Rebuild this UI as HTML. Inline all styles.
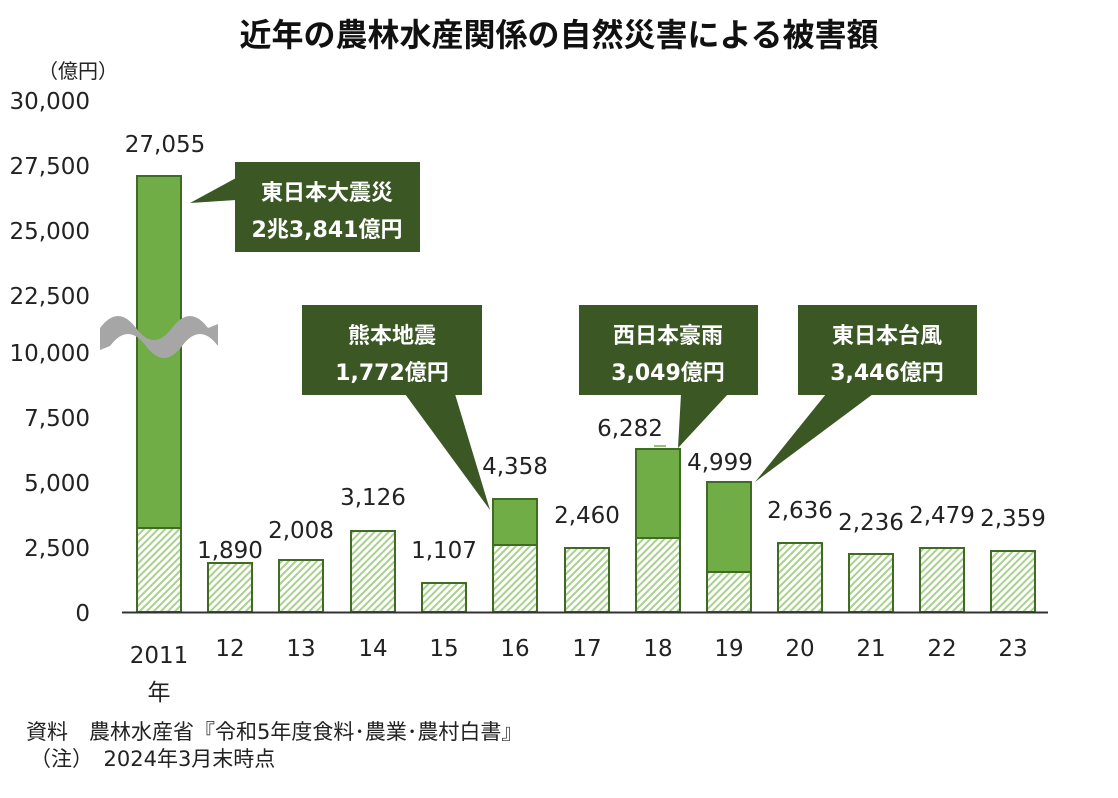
<!DOCTYPE html>
<html><head><meta charset="utf-8"><style>
body{margin:0;background:#fff;}
text{font-family:"DejaVu Sans","Noto Sans CJK JP",sans-serif;}
.j{font-family:"Noto Sans CJK JP","DejaVu Sans",sans-serif;}
</style></head><body>
<svg width="1118" height="793" viewBox="0 0 1118 793" xmlns="http://www.w3.org/2000/svg">
<defs>
<pattern id="h" width="5" height="5" patternUnits="userSpaceOnUse" patternTransform="rotate(-45)">
<rect width="5" height="5" fill="#fff"/>
<rect width="5" height="2" fill="#a9d18e"/>
</pattern>
</defs>
<text class="j" x="559" y="46" text-anchor="middle" font-size="32" font-weight="bold" fill="#111">近年の農林水産関係の自然災害による被害額</text>
<text class="j" x="38" y="78" font-size="20" fill="#222">（億円）</text>
<g font-size="23" fill="#222" text-anchor="end">
<text x="90" y="109">30,000</text>
<text x="90" y="174">27,500</text>
<text x="90" y="239">25,000</text>
<text x="90" y="304">22,500</text>
<text x="90" y="361">10,000</text>
<text x="90" y="426">7,500</text>
<text x="90" y="491">5,000</text>
<text x="90" y="556">2,500</text>
<text x="90" y="621">0</text>
</g>
<g stroke="#3f6b22" stroke-width="2">
<rect x="137" y="176" width="44" height="352" fill="#70ad47"/>
<rect x="137" y="528" width="44" height="84" fill="url(#h)"/>
<rect x="208" y="563" width="44" height="49" fill="url(#h)"/>
<rect x="279" y="560" width="44" height="52" fill="url(#h)"/>
<rect x="351" y="531" width="44" height="81" fill="url(#h)"/>
<rect x="422" y="583" width="44" height="29" fill="url(#h)"/>
<rect x="493" y="499" width="44" height="46" fill="#70ad47"/>
<rect x="493" y="545" width="44" height="67" fill="url(#h)"/>
<rect x="565" y="548" width="44" height="64" fill="url(#h)"/>
<rect x="636" y="449" width="44" height="89" fill="#70ad47"/>
<rect x="636" y="538" width="44" height="74" fill="url(#h)"/>
<rect x="707" y="482" width="44" height="90" fill="#70ad47"/>
<rect x="707" y="572" width="44" height="40" fill="url(#h)"/>
<rect x="778" y="543" width="44" height="69" fill="url(#h)"/>
<rect x="849" y="554" width="44" height="58" fill="url(#h)"/>
<rect x="920" y="548" width="44" height="64" fill="url(#h)"/>
<rect x="991" y="551" width="44" height="61" fill="url(#h)"/>
</g>
<line x1="654" y1="446" x2="666" y2="446" stroke="#70ad47" stroke-width="1.5"/>
<line x1="122" y1="612.5" x2="1048" y2="612.5" stroke="#333" stroke-width="2"/>
<path d="M100,328 C112,312 124,312 136,328 C148,344 160,344 172,328 C184,312 196,312 208,328 L218,324 L218,346 C206,330 194,330 182,346 C170,362 158,362 146,346 C134,330 122,330 110,346 L100,350 Z" fill="#a6a6a6"/>
<g font-size="23" fill="#222" text-anchor="middle">
<text x="165" y="152">27,055</text>
<text x="230" y="558">1,890</text>
<text x="301" y="538">2,008</text>
<text x="373" y="505">3,126</text>
<text x="444" y="558">1,107</text>
<text x="515" y="474">4,358</text>
<text x="587" y="523">2,460</text>
<text x="630" y="436">6,282</text>
<text x="720" y="470">4,999</text>
<text x="800" y="518">2,636</text>
<text x="871" y="530">2,236</text>
<text x="942" y="523">2,479</text>
<text x="1013" y="526">2,359</text>
<text x="159" y="663">2011</text>
<text class="j" x="159" y="700">年</text>
<text x="230" y="656">12</text><text x="301" y="656">13</text><text x="373" y="656">14</text>
<text x="444" y="656">15</text><text x="515" y="656">16</text><text x="587" y="656">17</text>
<text x="658" y="656">18</text><text x="729" y="656">19</text><text x="800" y="656">20</text>
<text x="871" y="656">21</text><text x="942" y="656">22</text><text x="1013" y="656">23</text>
</g>
<g fill="#3a5724">
<rect x="235" y="162" width="185" height="90"/>
<path d="M236,178 L190,203 L236,200 Z"/>
<rect x="302" y="305" width="180" height="90"/>
<path d="M405,394 L490,510 L455,394 Z"/>
<rect x="579" y="305" width="179" height="90"/>
<path d="M681,394 L678,448 L728,394 Z"/>
<rect x="798" y="305" width="179" height="90"/>
<path d="M826,394 L755,482 L873,394 Z"/>
</g>
<g font-size="22" font-weight="bold" fill="#fff" text-anchor="middle">
<text x="327" y="200">東日本大震災</text><text x="327" y="237">2兆3,841億円</text>
<text x="392" y="343">熊本地震</text><text x="392" y="380">1,772億円</text>
<text x="668" y="343">西日本豪雨</text><text x="668" y="380">3,049億円</text>
<text x="887" y="343">東日本台風</text><text x="887" y="380">3,446億円</text>
</g>
<g font-size="21" fill="#222">
<text x="26" y="739">資料　農林水産省『令和5年度食料･農業･農村白書』</text>
<text x="30" y="766">（注）　2024年3月末時点</text>
</g>
</svg>
</body></html>
